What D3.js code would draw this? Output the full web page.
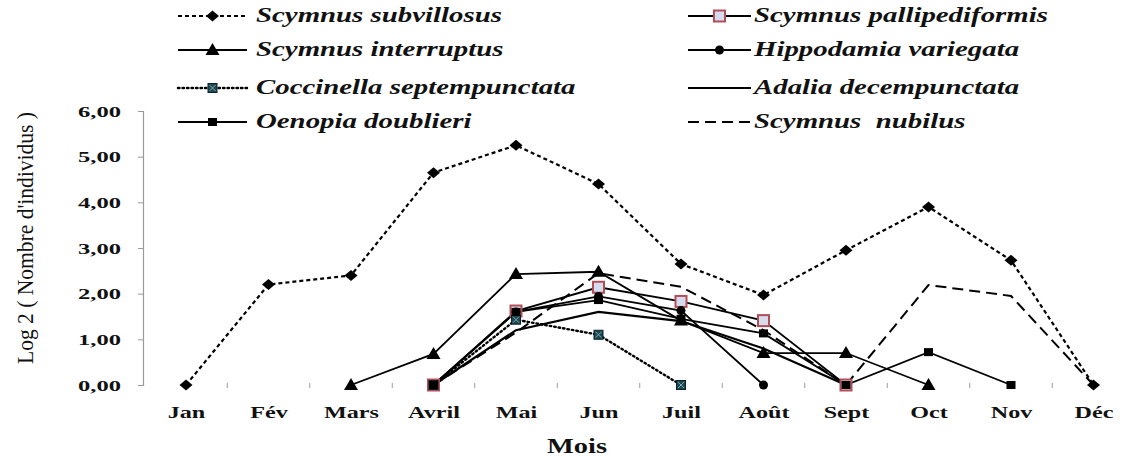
<!DOCTYPE html>
<html><head><meta charset="utf-8">
<script src="https://cdn.jsdelivr.net/npm/d3@7"></script>
<style>body{margin:0;background:#fff}svg{display:block} text{font-family:"Liberation Serif","DejaVu Serif",serif}</style>
</head><body>
<svg id="c" width="1126" height="459"></svg>
<script>
const months = ["Jan","Fév","Mars","Avril","Mai","Jun","Juil","Août","Sept","Oct","Nov","Déc"];
const yTickLabels = ["0,00","1,00","2,00","3,00","4,00","5,00","6,00"];
const subvillosus   = [0,2.2,2.4,4.65,5.25,4.4,2.65,1.97,2.95,3.9,2.73,0];
const pallipediformis = [null,null,null,0,1.62,2.14,1.83,1.41,0,null,null,null];
const interruptus   = [null,null,0,0.68,2.43,2.48,1.41,0.7,0.7,0,null,null];
const hippodamia    = [null,null,null,0,1.6,1.94,1.63,0,null,null,null,null];
const coccinella    = [null,null,null,0,1.43,1.1,0,null,null,null,null,null];
const adalia        = [null,null,null,0,1.2,1.6,1.4,0.8,0,null,null,null];
const oenopia       = [null,null,null,0,1.6,1.86,1.45,1.13,0,0.72,0,null];
const nubilus       = [null,null,null,0,1.15,2.45,2.15,1.2,0,2.19,1.95,0];
const seriesNames = ["Scymnus subvillosus","Scymnus pallipediformis","Scymnus interruptus","Hippodamia variegata","Coccinella septempunctata","Adalia decempunctata","Oenopia doublieri","Scymnus  nubilus"];

const series = [
  {name:seriesNames[0], v:subvillosus, dash:"4,3", w:2.2, marker:"diamond", col:0,row:0},
  {name:seriesNames[1], v:pallipediformis, dash:null, w:1.8, marker:"palsq", col:1,row:0},
  {name:seriesNames[2], v:interruptus, dash:null, w:1.8, marker:"triangle", col:0,row:1},
  {name:seriesNames[3], v:hippodamia, dash:null, w:1.8, marker:"circle", col:1,row:1},
  {name:seriesNames[4], v:coccinella, dash:"1.5,3", w:2.4, marker:"cocsq", col:0,row:2},
  {name:seriesNames[5], v:adalia, dash:null, w:2.2, marker:null, col:1,row:2},
  {name:seriesNames[6], v:oenopia, dash:null, w:1.8, marker:"smallsq", col:0,row:3},
  {name:seriesNames[7], v:nubilus, dash:"11,6", w:2, marker:null, col:1,row:3}
];
const FONT = "Liberation Serif";
const svg = d3.select("#c");
const x = d3.scalePoint().domain(months).range([186, 1093.5]);
const y = d3.scaleLinear().domain([0,6]).range([385, 111]);

function stretchTo(sel, target){
  const n = sel.node().getComputedTextLength();
  return target / n;
}

// Y axis
const ya = svg.append("g").attr("transform","translate(143,0)")
  .call(d3.axisLeft(y).tickValues([0,1,2,3,4,5,6]).tickSize(5).tickFormat(d=>yTickLabels[d]));
ya.select(".domain").attr("stroke","#9a9a9a").attr("stroke-width",1.2);
ya.selectAll(".tick line").attr("stroke","#9a9a9a");
ya.selectAll(".tick text").attr("font-family",FONT).attr("font-weight","bold").attr("font-size",15).attr("fill","#111");
{
  const f = stretchTo(ya.select(".tick text"), 43);
  ya.selectAll(".tick text").attr("x", -22/f).attr("dy","0.34em").attr("transform",`scale(${f},1)`);
}

// X axis (labels)
const xa = svg.append("g").attr("transform","translate(0,385)")
  .call(d3.axisBottom(x).tickSize(0));
xa.select(".domain").remove();
xa.selectAll(".tick text").attr("font-family",FONT).attr("font-weight","bold").attr("font-size",17).attr("fill","#111")
  .attr("y",33).attr("dy",0);
{
  const mars = xa.selectAll(".tick text").filter(d=>d==="Mars");
  const f = stretchTo(mars, 55);
  xa.selectAll(".tick text").attr("transform",`scale(${f},1)`);
}
// boundary ticks
const mids = months.slice(0,-1).map((m,i)=> (x(m)+x(months[i+1]))/2);
svg.append("g").selectAll("line").data(mids).join("line")
  .attr("x1",d=>d).attr("x2",d=>d).attr("y1",383).attr("y2",388)
  .attr("stroke","#9a9a9a").attr("stroke-width",1);

// axis titles
const mois = svg.append("text").attr("font-family",FONT).attr("font-weight","bold").attr("font-size",21)
  .attr("text-anchor","middle").attr("fill","#111").text("Mois");
{
  const f = stretchTo(mois, 60);
  mois.attr("transform",`translate(577,453) scale(${f},1)`);
}
const yt = svg.append("text").attr("font-family",FONT).attr("font-size",23)
  .attr("text-anchor","middle").attr("fill","#111").text("Log 2  ( Nombre d'individus )");
{
  const f = stretchTo(yt, 252);
  yt.attr("transform",`translate(33,238) rotate(-90) scale(${f},1)`);
}

// lines
const line = d3.line().defined(d=>d.v!=null).x(d=>x(d.m)).y(d=>y(d.v));
const plot = svg.append("g");
series.forEach(s=>{
  const pts = months.map((m,i)=>({m, v:s.v[i]}));
  plot.append("path").datum(pts).attr("d",line).attr("fill","none")
    .attr("stroke","#000").attr("stroke-width",s.w)
    .attr("stroke-dasharray",s.dash).attr("stroke-linecap", s.marker==="cocsq"?"round":"butt");
});

function drawMarker(g, type, cx, cy){
  if(type==="diamond"){
    g.append("path").attr("d",`M${cx},${cy-5.5}L${cx+6.5},${cy}L${cx},${cy+5.5}L${cx-6.5},${cy}Z`).attr("fill","#000");
  } else if(type==="triangle"){
    g.append("path").attr("d",`M${cx},${cy-7}L${cx+7},${cy+5}L${cx-7},${cy+5}Z`).attr("fill","#000");
  } else if(type==="circle"){
    g.append("circle").attr("cx",cx).attr("cy",cy).attr("r",4.5).attr("fill","#000");
  } else if(type==="palsq"){
    g.append("rect").attr("x",cx-5.5).attr("y",cy-5.5).attr("width",11).attr("height",11)
      .attr("fill","#d4dcee").attr("stroke","#b24e58").attr("stroke-width",2);
  } else if(type==="cocsq"){
    g.append("rect").attr("x",cx-4.5).attr("y",cy-4.5).attr("width",9).attr("height",9)
      .attr("fill","#1d4852").attr("stroke","#0b2228").attr("stroke-width",1);
    g.append("path").attr("d",`M${cx-3},${cy-3}L${cx+3},${cy+3}M${cx+3},${cy-3}L${cx-3},${cy+3}`)
      .attr("stroke","#7fa6ae").attr("stroke-width",1);
  } else if(type==="smallsq"){
    g.append("rect").attr("x",cx-4.5).attr("y",cy-4).attr("width",9).attr("height",8).attr("fill","#000");
  }
}
const mk = svg.append("g");
series.forEach(s=>{
  if(!s.marker) return;
  months.forEach((m,i)=>{ if(s.v[i]!=null) drawMarker(mk, s.marker, x(m), y(s.v[i])); });
});

// legend
const colX = [{x1:178,x2:247,tx:256},{x1:688,x2:751,tx:754}];
const rowY = [16,50,88,122];
const leg = svg.append("g");
let legF = null;
series.forEach(s=>{
  const c = colX[s.col], ly = rowY[s.row];
  leg.append("line").attr("x1",c.x1).attr("x2",c.x2).attr("y1",ly).attr("y2",ly)
    .attr("stroke","#000").attr("stroke-width",s.w).attr("stroke-dasharray",s.dash)
    .attr("stroke-linecap", s.marker==="cocsq"?"round":"butt");
  if(s.marker) drawMarker(leg, s.marker, (c.x1+c.x2)/2, ly);
  const t = leg.append("text").attr("font-family",FONT).attr("font-weight","bold").attr("font-style","italic")
    .attr("font-size",21).attr("fill","#111").attr("xml:space","preserve").text(s.name);
  if(legF===null) legF = stretchTo(t, 246);
  t.attr("transform",`translate(${c.tx},${ly+6}) scale(${legF},1)`);
});
</script>
</body></html>
